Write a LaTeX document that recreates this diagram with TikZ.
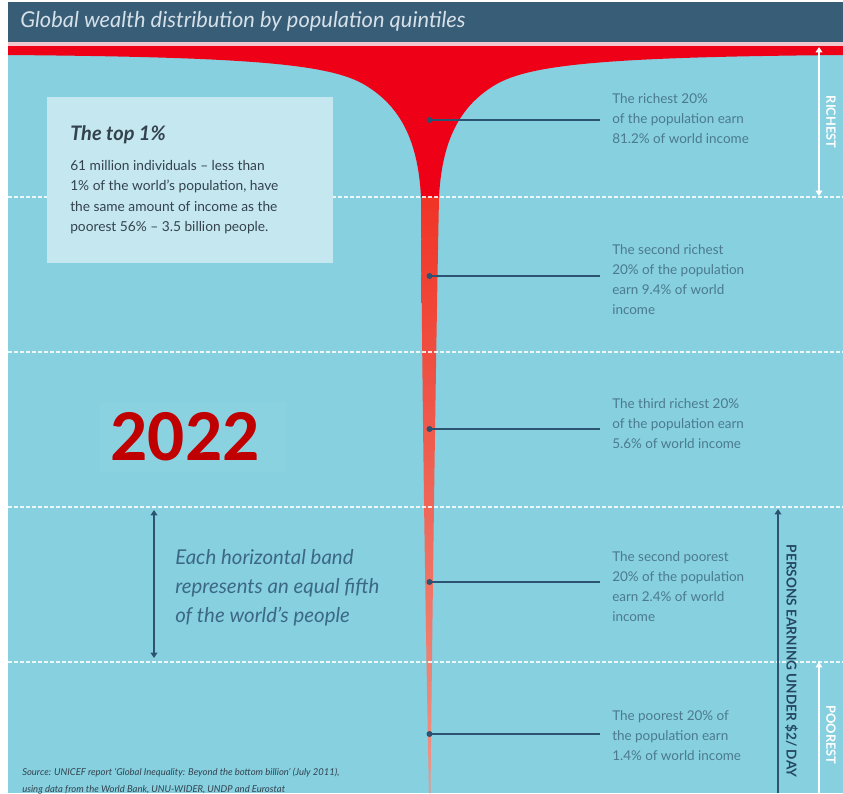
\documentclass[tikz,border=0pt]{standalone}
\usepackage{fontspec}
\setmainfont{Lato}
\newfontfamily\yearfont{Carlito}
\usetikzlibrary{arrows.meta}

\definecolor{skyband}{RGB}{134,208,224}
\definecolor{titlebar}{RGB}{56,93,119}
\definecolor{titletext}{RGB}{214,224,232}
\definecolor{pinkline}{RGB}{242,200,206}
\definecolor{funnelred}{RGB}{238,0,22}
\definecolor{stemtop}{RGB}{240,52,38}
\definecolor{stembottom}{RGB}{238,150,136}
\definecolor{leadblue}{RGB}{44,84,114}
\definecolor{notegray}{RGB}{76,122,142}
\definecolor{boxfill}{RGB}{196,231,240}
\definecolor{boxtext}{RGB}{52,66,78}
\definecolor{yearred}{RGB}{192,0,0}
\definecolor{bandtext}{RGB}{60,104,134}

\begin{document}
\begin{tikzpicture}[x=0.75pt,y=0.75pt,yscale=-1,xscale=1,
  note/.style={anchor=west,align=left,inner sep=0pt,inner xsep=9pt,text=notegray,font=\fontsize{10.1}{15}\selectfont},
  dot/.style={circle,fill=leadblue,inner sep=0pt,minimum size=4.5pt},
  lead/.style={draw=leadblue,line width=1.5pt},
  bandline/.style={draw=white,opacity=0.85,line width=1.4pt,dash pattern=on 3pt off 1.5pt},
  sidelabel/.style={rotate=-90,inner sep=0pt,font=\fontsize{9.6}{11}\selectfont\bfseries},
  tip/.style={-{Triangle[width=5pt,length=4pt]}}]
\clip (0,0) rectangle (843,793);

%Shape: Background
\fill [white] (0,0) rectangle (843,793);
\fill [skyband] (8,42) rectangle (843,793);
\fill [titlebar] (8,2) rectangle (843,42);
\fill [pinkline] (8,42) rectangle (843,46);

%Shape: Funnel
\fill [funnelred] (8,55) .. controls (250,57) and (330,64) .. (365,85) .. controls (400,106) and (418,140) .. (421,197) -- (439,197) .. controls (442,140) and (460,106) .. (495,85) .. controls (530,64) and (610,57) .. (843,55) -- (843,46) -- (8,46) -- cycle ;
%Shape: Stem
\shade [top color=stemtop,bottom color=stembottom] (421,197) .. controls (422,400) and (426,650) .. (429,793) -- (430.5,793) .. controls (432,650) and (435,400) .. (439,197) -- cycle ;

%Straight Lines: band borders
\foreach \y in {197,352,507,662}
  \draw [bandline] (8,\y) -- (843,\y) ;

% Text Node
\draw (20,21) node [anchor=west,inner sep=0pt,text=titletext,font=\fontsize{16.4}{18}\selectfont\itshape] (title) {Global wealth distribution by population quintiles};

%Shape: Rectangle
\fill [boxfill] (47,97) rectangle (333,263) ;
% Text Node
\draw (70,135) node [anchor=west,inner sep=0pt,text=boxtext,font=\fontsize{15}{18}\selectfont\bfseries\itshape] (toptitle) {The top 1\%};
% Text Node
\draw (70,197) node [anchor=west,align=left,inner sep=0pt,text=boxtext,font=\fontsize{10.3}{15.3}\selectfont] (topbody) {61 million individuals -- less than\\1\% of the world's population, have\\the same amount of income as the\\poorest 56\% -- 3.5 billion people.};

%Shape: Rectangle
\fill [skyband!85!white,opacity=0.3] (100,402) rectangle (286,472) ;
% Text Node
\draw (185,437) node [text=yearred,font=\yearfont\bfseries\fontsize{55}{60}\selectfont] (year) {2022};

%Shape: Circles
\node [dot] (d1) at (429.5,120) {};
\node [dot] (d2) at (429.5,276) {};
\node [dot] (d3) at (429.5,429) {};
\node [dot] (d4) at (429.5,582) {};
\node [dot] (d5) at (429.5,734) {};

% Text Node
\node [note] (t1) at (600,119) {The richest 20\%\\of the population earn\\81.2\% of world income};
\node [note] (t2) at (600,280) {The second richest\\20\% of the population\\earn 9.4\% of world\\income};
\node [note] (t3) at (600,424) {The third richest 20\%\\of the population earn\\5.6\% of world income};
\node [note] (t4) at (600,587) {The second poorest\\20\% of the population\\earn 2.4\% of world\\income};
\node [note] (t5) at (600,736) {The poorest 20\% of\\the population earn\\1.4\% of world income};

%Straight Lines
\draw [lead] (d1.center) -- (d1 -| t1.west) ;
\draw [lead] (d2.center) -- (d2 -| t2.west) ;
\draw [lead] (d3.center) -- (d3 -| t3.west) ;
\draw [lead] (d4.center) -- (d4 -| t4.west) ;
\draw [lead] (d5.center) -- (d5 -| t5.west) ;

%Straight Lines: band arrow
\coordinate (bandtop) at (154,510) ;
\coordinate (bandbot) at (154,658) ;
\draw [leadblue,line width=1.3pt,{Triangle[width=5pt,length=4pt]}-{Triangle[width=5pt,length=4pt]}] (bandtop) -- (bandbot) ;
% Text Node
\draw (175,588) node [anchor=west,align=left,inner sep=0pt,text=bandtext,font=\fontsize{15.3}{21.8}\selectfont\itshape] (band) {Each horizontal band\\represents an equal fifth\\of the world's people};

%Straight Lines: richest arrow
\coordinate (richtop) at (819,47) ;
\coordinate (richbot) at (819,196) ;
\draw [white,line width=1.3pt,{Triangle[width=5pt,length=4pt]}-{Triangle[width=5pt,length=4pt]}] (richtop) -- (richbot) ;
\draw (831,122) node [sidelabel,text=white] (rich) {RICHEST};

%Straight Lines: poorest arrow
\coordinate (poorbot) at (819,793) ;
\coordinate (poortop) at (819,662) ;
\draw [white,line width=1.3pt,tip] (poorbot) -- (poortop) ;
\draw (831,735) node [sidelabel,text=white] (poor) {POOREST};

%Straight Lines: two dollar arrow
\coordinate (dollarbot) at (778,793) ;
\coordinate (dollartop) at (778,509) ;
\draw [leadblue,line width=1.3pt,tip] (dollarbot) -- (dollartop) ;
\draw (791.5,661) node [sidelabel,text=leadblue!85!black,font=\fontsize{10.2}{12}\selectfont\bfseries] (dollar) {PERSONS EARNING UNDER \$2/ DAY};

% Text Node
\draw (22,781) node [anchor=west,align=left,inner sep=0pt,text=boxtext,font=\fontsize{7.1}{12.5}\selectfont\itshape] (source) {Source: UNICEF report `Global Inequality: Beyond the bottom billion' (July 2011),\\using data from the World Bank, UNU-WIDER, UNDP and Eurostat};

\end{tikzpicture}
\end{document}
